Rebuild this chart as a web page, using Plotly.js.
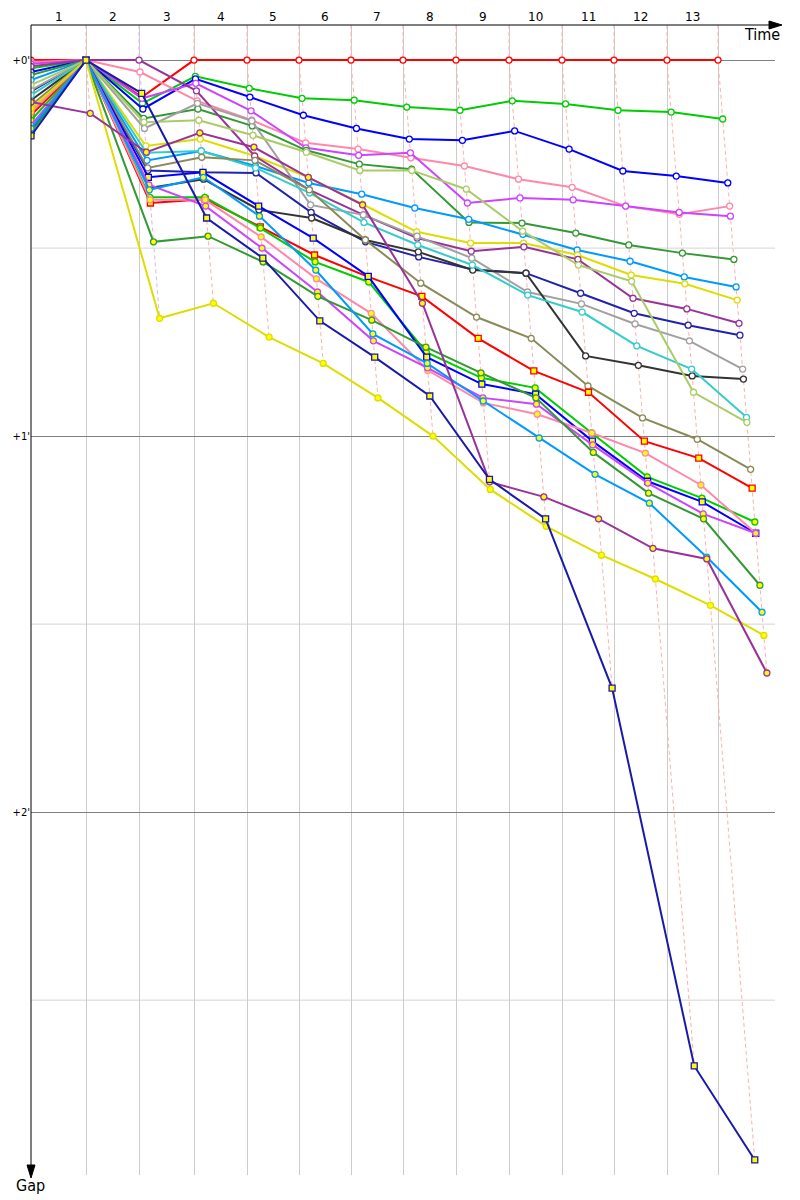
<!DOCTYPE html>
<html><head><meta charset="utf-8">
<script src="https://cdn.plot.ly/plotly-3.0.1.min.js"></script>
<style>body{margin:0;background:#fff}#c{width:800px;height:1200px}</style>
</head><body><div id="c"></div>
<script>
// Lap labels and leader's cumulative time (s) at each lap line (lap 0 = start)
const lapLabels = ['1','2','3','4','5','6','7','8','9','10','11','12','13'];
const leaderTimes = [0,110,216,326,432,536,640,744,850,956,1062,1166,1272,1374];

// Gap to leader (seconds) at lap 0..13, per driver
const names = ['red','green','blue','pink','violet','darkgreen','lightblue','yellow','purple','navy','gray','black','cyan','lightgreen','olive',
               'red2','green2','blue2','pink2','violet2','darkgreen2','lightblue2','yellow2','purple2','navy2'];
const colors = ['#ff0000','#00cc00','#0000ff','#ff88aa','#cc44ff','#339933','#0099ff','#dddd00','#993399','#2222aa','#a0a0a0','#333333','#33cccc','#aacc66','#8a8a58',
                '#ff0000','#00cc00','#0000ff','#ff88aa','#cc44ff','#339933','#0099ff','#dddd00','#993399','#1a1aaa'];
const gRed        = [0,0,5.9,0,0,0,0,0,0,0,0,0,0,0];
const gGreen      = [1.3,0,6.9,2.6,4.5,6.1,6.4,7.5,8.0,6.5,7.0,8.0,8.3,9.4];
const gBlue       = [1.9,0,7.8,3.0,5.9,8.8,10.9,12.6,12.8,11.3,14.2,17.7,18.5,19.6];
const gPink       = [0.3,0,1.9,6.5,9.6,13.2,14.2,15.6,16.9,19.0,20.3,23.3,24.6,23.3];
const gViolet     = [0.6,0,6.1,3.7,8.1,14.0,15.2,14.8,22.8,22.0,22.3,23.3,24.3,24.9];
const gDarkgreen  = [2.4,0,9.3,7.8,10.5,14.4,16.6,17.4,25.9,26.0,27.6,29.5,30.8,31.8];
const gLightblue  = [3.2,0,16.0,14.5,16.9,19.6,21.4,23.6,25.4,27.8,30.3,32.1,34.6,36.2];
const gYellow     = [8.0,0,13.7,12.6,15.3,18.7,23.0,27.4,29.2,29.2,31.1,34.3,35.7,38.3];
const gPurple     = [1.0,0,0,4.9,15.3,20.7,24.7,28.4,30.5,29.8,31.8,38.0,39.7,42.0];
const gNavy       = [5.0,0,17.6,17.9,18.0,24.3,29.0,31.4,33.4,34.0,37.2,40.4,42.3,43.9];
const gGray       = [4.8,0,10.9,6.9,9.7,23.1,24.7,28.1,31.6,37.0,38.9,42.1,44.8,49.3];
const gBlack      = [6.4,0,20.4,19.0,23.9,25.2,28.7,30.6,33.5,34.0,47.2,48.7,50.4,50.9];
const gCyan       = [5.6,0,14.8,14.5,17.2,21.2,25.9,29.5,32.7,37.5,40.2,45.6,49.3,57.0];
const gLightgreen = [4.0,0,9.9,9.6,12.0,14.7,17.6,17.6,20.6,27.3,32.7,35.3,53.0,57.8];
const gOlive      = [7.2,0,17.2,15.5,16.0,20.7,28.7,35.6,41.0,44.4,52.0,57.1,60.5,65.3];
const gRed2       = [8.8,0,22.8,22.2,26.6,31.1,34.6,37.7,44.4,49.6,53.0,60.8,63.5,68.3];
const gGreen2     = [9.6,0,21.9,21.9,26.8,32.2,35.4,46.6,50.7,52.3,59.5,66.5,69.9,73.7];
const gBlue2      = [11.2,0,18.7,17.9,23.3,28.4,34.5,47.4,51.7,53.3,60.8,67.2,70.5,75.5];
const gPink2      = [8.3,0,22.3,22.3,28.2,34.9,40.4,49.5,54.7,56.5,59.5,62.7,67.8,75.5];
const gViolet2    = [10.4,0,19.9,23.3,30.0,37.0,44.8,49.1,53.9,54.9,61.4,67.5,72.4,75.5];
const gDarkgreen2 = [11.5,0,29.0,28.1,32.2,37.7,41.5,45.8,49.9,53.9,62.6,69.1,73.2,83.8];
const gLightblue2 = [10.9,0,20.7,18.7,24.9,33.5,43.7,48.4,54.4,60.3,66.1,70.7,79.3,88.1];
const gYellow2    = [7.7,0,41.2,38.8,44.2,48.4,53.9,60.0,68.5,74.4,79.0,82.8,87.0,91.8];
const gPurple2    = [6.7,8.5,14.7,11.6,13.9,18.7,23.1,38.8,67.3,69.7,73.2,77.9,79.6,97.8];
const gNavy2      = [12.1,0,5.3,25.2,31.6,41.6,47.4,53.6,66.9,73.2,100.2,160.5,175.5,null];
const gaps = [gRed,gGreen,gBlue,gPink,gViolet,gDarkgreen,gLightblue,gYellow,gPurple,gNavy,gGray,gBlack,gCyan,gLightgreen,gOlive,
              gRed2,gGreen2,gBlue2,gPink2,gViolet2,gDarkgreen2,gLightblue2,gYellow2,gPurple2,gNavy2];
const yellowMarked = [15,16,17,18,19,20,21,22,23,24];
const squareMarked = [15,17,24];

const Y_TOP = -5.6, Y_BOT = 177.9, X_MAX = 1488;
const xOf = (L, g) => leaderTimes[L] + (L > 0 ? g : 0);

const traces = [];
// dashed lap lines
for (let L = 1; L < leaderTimes.length; L++) {
  const pts = [];
  gaps.forEach(g => { if (g[L] !== null && g[L] !== undefined) pts.push(g[L]); });
  pts.sort((a,b)=>a-b);
  const xs = [leaderTimes[L]], ys = [Y_TOP];
  pts.forEach(g => { xs.push(xOf(L,g)); ys.push(g); });
  traces.push({x: xs, y: ys, mode:'lines', hoverinfo:'skip', showlegend:false,
    line:{color: L===2 ? '#dcb8e8' : '#ffb0b0', width:1, dash:'4px,3px'}});
}
// driver lines
gaps.forEach((g, i) => {
  const xs = [], ys = [];
  g.forEach((v, L) => { if (v !== null) { xs.push(xOf(L, v)); ys.push(v); } });
  const yel = yellowMarked.includes(i);
  traces.push({x: xs, y: ys, mode:'lines+markers', name: names[i], showlegend:false,
    line:{color: colors[i], width:2},
    marker:{size:6, symbol: squareMarked.includes(i) ? 'square' : 'circle',
      color: yel ? '#ffff00' : '#ffffff', line:{color: colors[i], width:1.3}}});
});

const W = 744, H = 1150; // plot area px
const px = v => v / W, py = v => v / H;
const shapes = [];
[30, 90, 150].forEach(v => shapes.push({type:'line', xref:'paper', yref:'y', x0:0, x1:1, y0:v, y1:v,
  line:{color:'#d4d4d4', width:1}, layer:'below'}));
// axes with arrows
shapes.push({type:'line', xref:'paper', yref:'paper', x0:0, x1:1+px(2), y0:1, y1:1, line:{color:'#000', width:1}});
shapes.push({type:'path', xref:'paper', yref:'paper', fillcolor:'#000', line:{color:'#000', width:1},
  path:`M ${1+px(-6)} ${1+py(4)} L ${1+px(7)} 1 L ${1+px(-6)} ${1-py(4)} Z`});
shapes.push({type:'line', xref:'paper', yref:'paper', x0:0, x1:0, y0:1, y1:py(6), line:{color:'#000', width:1}});
shapes.push({type:'path', xref:'paper', yref:'paper', fillcolor:'#000', line:{color:'#000', width:1},
  path:`M ${px(-4)} ${py(10)} L 0 ${py(-3)} L ${px(4)} ${py(10)} Z`});

const font = 'DejaVu Sans, Verdana, sans-serif';
const narrow = 'Liberation Sans Narrow, DejaVu Sans Condensed, sans-serif';
const annotations = lapLabels.map((t, i) => ({
  x: (leaderTimes[i] + leaderTimes[i+1]) / 2, xref:'x', y: 1 + py(8), yref:'paper',
  text: t, showarrow:false, font:{family:font, size:12, color:'#000'}, xanchor:'center', yanchor:'middle'}));
annotations.push({x: 1 + px(-13), y: 1 - py(10), xref:'paper', yref:'paper', text:'Time', showarrow:false,
  font:{family:narrow, size:16, color:'#000'}, xanchor:'center', yanchor:'middle'});
annotations.push({x: px(-1), y: -py(10), xref:'paper', yref:'paper', text:'Gap', showarrow:false,
  font:{family:narrow, size:16, color:'#000'}, xanchor:'center', yanchor:'middle'});

const layout = {
  width:800, height:1200, margin:{l:31, r:25, t:25, b:25}, paper_bgcolor:'#fff', plot_bgcolor:'#fff',
  showlegend:false, hovermode:false,
  xaxis:{range:[0, X_MAX], tickmode:'array', tickvals: leaderTimes, showticklabels:false, ticks:'',
    showgrid:true, gridcolor:'#cccccc', gridwidth:1, zeroline:false, showline:false, fixedrange:true},
  yaxis:{range:[Y_BOT, Y_TOP], tickmode:'array', tickvals:[0,60,120], ticktext:["+0'","+1'","+2'"], ticks:'',
    tickfont:{family:font, size:10, color:'#000'}, showgrid:true, gridcolor:'#808080', gridwidth:1,
    zeroline:false, showline:false, fixedrange:true},
  shapes, annotations
};
Plotly.newPlot('c', traces, layout, {staticPlot:true, displayModeBar:false});
</script></body></html>
